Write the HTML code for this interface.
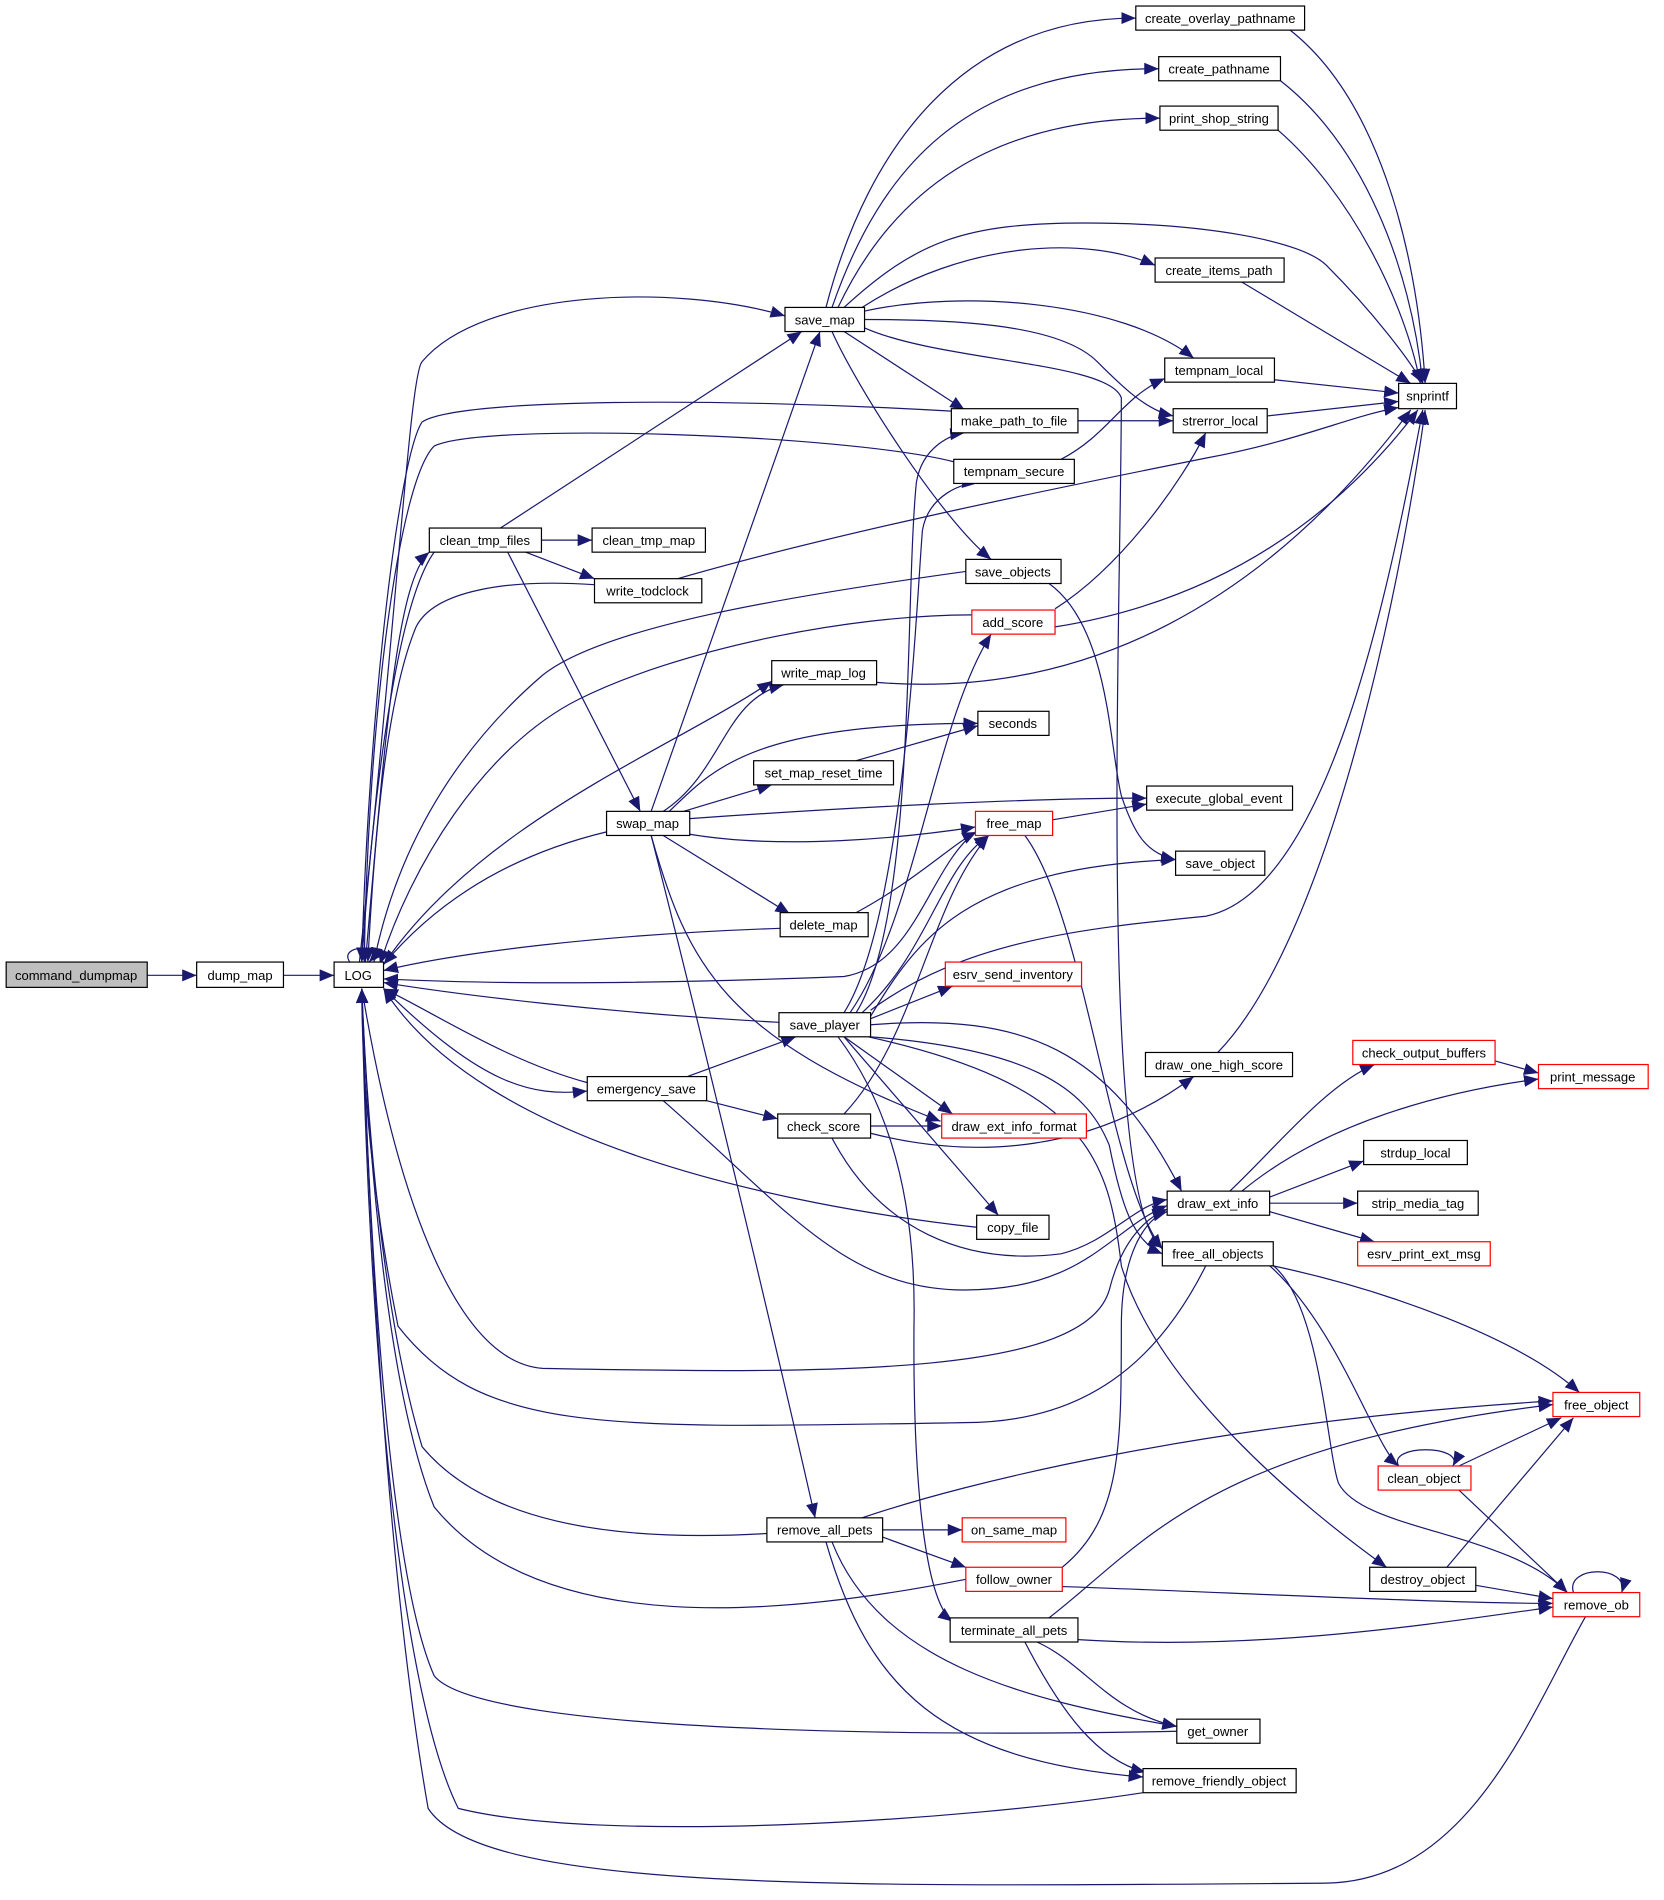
<!DOCTYPE html>
<html><head><meta charset="utf-8"><style>html,body{margin:0;padding:0;background:#fff}svg{display:block}</style></head><body>
<svg width="1664" height="1900" viewBox="0 0 1380 1576" xmlns="http://www.w3.org/2000/svg">
<defs><marker id="a" markerUnits="userSpaceOnUse" markerWidth="13" markerHeight="10" refX="12" refY="5" orient="auto"><path d="M0,0 L12,5 L0,10 z" fill="#191970"/></marker></defs>
<g fill="none" stroke="#191970" stroke-width="1" marker-end="url(#a)">
<path d="M122,809 L163,809"/><path d="M235,809 L277,809"/>
<path d="M290,798 C280,783 320,783 306,798"/>
<path d="M298,798 C330,500 340,310 350,300 C400,240 560,235 651,262"/>
<path d="M789,341 C600,330 380,330 350,350 C330,380 305,600 300,798"/>
<path d="M791,383 C700,360 400,350 360,370 C330,400 305,600 302,798"/>
<path d="M303,798 C320,600 330,480 356,458"/>
<path d="M360,458 C330,500 310,650 300,798"/>
<path d="M449,448 L491,448"/><path d="M436,458 L493,480"/><path d="M415,438 L665,275"/><path d="M421,458 L531,673"/>
<path d="M493,485 C420,480 360,490 345,520 C320,580 310,700 305,798"/>
<path d="M562,480 C700,440 900,400 1000,380 C1080,365 1120,345 1160,338"/>
<path d="M801,474 C650,495 500,520 450,560 C380,620 330,700 310,798"/>
<path d="M806,510 C700,510 560,540 480,580 C400,620 340,720 315,800"/>
<path d="M550,673 C600,640 600,580 650,568"/>
<path d="M503,690 C420,710 360,750 318,800"/>
<path d="M555,673 C590,640 620,600 811,600"/>
<path d="M567,673 L640,651"/>
<path d="M572,679 C700,670 850,662 951,662"/>
<path d="M572,692 C650,705 750,695 809,686"/>
<path d="M550,693 L655,758"/>
<path d="M647,770 C500,775 380,790 318,805"/>
<path d="M318,800 C400,680 560,620 640,565"/>
<path d="M685,255 C720,120 800,15 942,15"/>
<path d="M690,255 C730,140 800,57 961,57"/>
<path d="M695,255 C740,160 820,98 962,98"/>
<path d="M700,255 C760,200 800,185 900,185 C1000,185 1080,200 1100,220 C1140,260 1170,300 1180,318"/>
<path d="M715,255 C800,200 900,195 958,220"/>
<path d="M717,258 C800,240 930,250 990,297"/>
<path d="M717,265 C800,265 880,270 910,300 C930,320 950,340 973,345"/>
<path d="M700,275 L800,340"/>
<path d="M690,275 C710,320 780,430 822,464"/>
<path d="M717,272 C780,300 920,300 930,330 C930,500 910,1000 964,1035"/>
<path d="M540,673 L680,275"/>
<path d="M1070,25 C1140,80 1175,200 1182,318"/>
<path d="M1062,67 C1130,120 1170,220 1180,318"/>
<path d="M1060,108 C1120,160 1165,250 1178,318"/>
<path d="M1030,234 L1170,318"/>
<path d="M1057,315 L1160,326"/><path d="M1051,345 L1160,333"/><path d="M894,349 L973,349"/>
<path d="M880,381 C920,360 930,330 966,314"/>
<path d="M875,505 C930,470 980,400 1000,359"/>
<path d="M875,520 C1000,500 1100,440 1176,340"/>
<path d="M727,566 C900,580 1050,500 1170,340"/>
<path d="M710,631 L811,602"/><path d="M873,680 L951,667"/>
<path d="M850,693 C900,760 920,980 964,1036"/>
<path d="M870,484 C920,520 920,620 930,660 C940,690 950,708 975,713"/>
<path d="M710,757 C760,730 790,700 810,690"/>
<path d="M710,840 C760,760 750,500 760,400 C765,370 790,360 800,359"/>
<path d="M700,840 C750,760 760,500 765,440 C770,410 800,400 810,401"/>
<path d="M705,840 C760,760 775,600 822,526"/>
<path d="M715,840 C770,790 780,720 820,693"/>
<path d="M722,843 C760,780 800,720 975,713"/>
<path d="M722,838 C800,780 900,770 1000,760 C1100,740 1150,500 1180,340"/>
<path d="M722,845 L790,818"/>
<path d="M646,848 C500,840 380,825 318,815"/>
<path d="M722,850 C850,840 920,870 980,988"/>
<path d="M722,860 C850,870 900,900 920,950 C930,1000 940,1030 964,1040"/>
<path d="M700,860 L790,924"/><path d="M700,860 L828,1008"/>
<path d="M695,860 C740,920 760,1000 758,1100 C757,1250 770,1330 790,1345"/>
<path d="M720,860 C900,900 920,960 930,1050 C960,1150 1080,1250 1150,1300"/>
<path d="M570,893 L660,860"/><path d="M586,913 L645,928"/>
<path d="M487,898 C420,880 360,840 318,820"/>
<path d="M318,820 C400,900 440,910 487,905"/>
<path d="M550,913 C650,1000 700,1070 800,1070 C900,1070 920,1020 968,1000"/>
<path d="M722,934 L781,934"/>
<path d="M722,940 C800,960 900,960 990,893"/>
<path d="M690,944 C730,1020 800,1050 880,1040 C920,1030 940,1000 968,995"/>
<path d="M700,924 C760,860 770,750 820,693"/>
<path d="M1010,873 C1100,780 1160,500 1182,340"/>
<path d="M810,1018 C650,1000 400,950 318,820"/>
<path d="M1020,988 C1060,950 1100,900 1140,883"/>
<path d="M1030,988 C1100,930 1200,905 1276,895"/>
<path d="M1053,993 L1131,963"/><path d="M1053,998 L1126,998"/><path d="M1053,1005 L1140,1030"/>
<path d="M1240,880 L1276,890"/>
<path d="M300,820 C330,1000 380,1130 450,1135 C700,1140 900,1140 920,1070 C930,1030 950,1010 968,1003"/>
<path d="M1000,1050 C960,1130 900,1180 800,1180 C500,1185 400,1190 330,1100 C310,1000 300,900 300,820"/>
<path d="M1056,1050 C1150,1070 1260,1110 1310,1155"/>
<path d="M1052,1049 C1110,1100 1140,1200 1160,1216"/>
<path d="M1055,1049 C1095,1080 1100,1200 1110,1230 C1130,1270 1250,1270 1300,1321"/>
<path d="M1160,1216 C1150,1198 1215,1198 1205,1216"/>
<path d="M1210,1216 L1295,1176"/><path d="M1210,1236 L1300,1321"/>
<path d="M1200,1300 L1305,1176"/><path d="M1224,1315 L1288,1326"/>
<path d="M1305,1321 C1298,1298 1352,1298 1345,1321"/>
<path d="M1315,1341 C1270,1420 1220,1560 1100,1562 C700,1565 400,1570 355,1500 C320,1300 305,1000 300,820"/>
<path d="M636,1272 C500,1280 400,1260 350,1200 C320,1100 305,950 300,820"/>
<path d="M732,1269 L798,1269"/><path d="M732,1275 L801,1300"/>
<path d="M715,1259 C800,1230 1000,1180 1288,1162"/>
<path d="M690,1279 C730,1380 850,1410 976,1432"/>
<path d="M685,1279 C720,1400 780,1460 948,1474"/>
<path d="M540,693 C580,850 640,1100 676,1259"/>
<path d="M540,693 C570,800 600,860 780,930"/>
<path d="M801,1310 C650,1340 450,1360 360,1250 C320,1150 305,950 300,820"/>
<path d="M881,1300 C930,1260 930,1200 930,1100 C930,1040 950,1010 968,1005"/>
<path d="M881,1316 C1000,1320 1200,1330 1288,1330"/>
<path d="M870,1342 C950,1280 1000,1200 1288,1165"/>
<path d="M894,1360 C1050,1370 1200,1345 1288,1333"/>
<path d="M860,1362 C900,1380 920,1420 976,1432"/>
<path d="M850,1362 C880,1420 910,1460 950,1470"/>
<path d="M976,1436 C800,1440 400,1440 360,1390 C320,1300 305,1000 300,820"/>
<path d="M948,1487 C800,1510 500,1530 380,1500 C330,1400 305,1100 300,820"/>
<path d="M809,690 C770,720 760,800 700,810 C500,818 380,815 318,812"/>
</g>
<g font-family="Liberation Sans, sans-serif" font-size="10.8" text-anchor="middle">
<g stroke="#000" stroke-width="1" fill="#fff">
<rect x="5" y="798" width="117" height="21" fill="#bfbfbf"/>
<rect x="163" y="798" width="72" height="21"/><rect x="277" y="798" width="41" height="21"/>
<rect x="651" y="255" width="66" height="20"/><rect x="942" y="5" width="140" height="20"/>
<rect x="961" y="47" width="101" height="20"/><rect x="962" y="88" width="98" height="20"/>
<rect x="958" y="214" width="107" height="20"/><rect x="966" y="297" width="91" height="20"/>
<rect x="1160" y="318" width="48" height="21"/><rect x="789" y="339" width="105" height="20"/>
<rect x="973" y="339" width="78" height="20"/><rect x="791" y="381" width="100" height="20"/>
<rect x="356" y="438" width="93" height="20"/><rect x="491" y="438" width="94" height="20"/>
<rect x="493" y="480" width="89" height="20"/><rect x="801" y="464" width="79" height="20"/>
<rect x="806" y="506" width="69" height="20" stroke="#f00"/>
<rect x="640" y="548" width="87" height="20"/><rect x="811" y="590" width="59" height="20"/>
<rect x="625" y="631" width="116" height="20"/><rect x="951" y="652" width="121" height="20"/>
<rect x="503" y="673" width="69" height="20"/>
<rect x="809" y="673" width="64" height="20" stroke="#f00"/>
<rect x="975" y="706" width="74" height="20"/><rect x="647" y="757" width="73" height="20"/>
<rect x="784" y="798" width="113" height="20" stroke="#f00"/>
<rect x="646" y="840" width="76" height="20"/><rect x="950" y="873" width="122" height="20"/>
<rect x="1122" y="863" width="118" height="20" stroke="#f00"/>
<rect x="1276" y="883" width="91" height="20" stroke="#f00"/>
<rect x="487" y="893" width="99" height="20"/><rect x="645" y="924" width="77" height="20"/>
<rect x="781" y="924" width="120" height="20" stroke="#f00"/>
<rect x="1131" y="946" width="86" height="20"/><rect x="968" y="988" width="85" height="20"/>
<rect x="1126" y="988" width="100" height="20"/><rect x="810" y="1008" width="60" height="20"/>
<rect x="964" y="1030" width="92" height="20"/>
<rect x="1126" y="1030" width="110" height="20" stroke="#f00"/>
<rect x="1288" y="1155" width="72" height="20" stroke="#f00"/>
<rect x="1143" y="1216" width="77" height="20" stroke="#f00"/>
<rect x="636" y="1259" width="96" height="20"/>
<rect x="798" y="1259" width="86" height="20" stroke="#f00"/>
<rect x="801" y="1300" width="80" height="20" stroke="#f00"/>
<rect x="1136" y="1300" width="88" height="20"/>
<rect x="1288" y="1321" width="72" height="20" stroke="#f00"/>
<rect x="788" y="1342" width="106" height="20"/><rect x="976" y="1426" width="69" height="20"/>
<rect x="948" y="1467" width="127" height="20"/>
</g>
<text x="63" y="813">command_dumpmap</text><text x="199" y="813">dump_map</text><text x="297" y="813">LOG</text>
<text x="684" y="269">save_map</text><text x="1012" y="19">create_overlay_pathname</text>
<text x="1011" y="61">create_pathname</text><text x="1011" y="102">print_shop_string</text>
<text x="1011" y="228">create_items_path</text><text x="1011" y="311">tempnam_local</text>
<text x="1184" y="332">snprintf</text><text x="841" y="353">make_path_to_file</text>
<text x="1012" y="353">strerror_local</text><text x="841" y="395">tempnam_secure</text>
<text x="402" y="452">clean_tmp_files</text><text x="538" y="452">clean_tmp_map</text>
<text x="537" y="494">write_todclock</text><text x="840" y="478">save_objects</text>
<text x="840" y="520">add_score</text><text x="683" y="562">write_map_log</text>
<text x="840" y="604">seconds</text><text x="683" y="645">set_map_reset_time</text>
<text x="1011" y="666">execute_global_event</text><text x="537" y="687">swap_map</text>
<text x="841" y="687">free_map</text><text x="1012" y="720">save_object</text>
<text x="683" y="771">delete_map</text><text x="840" y="812">esrv_send_inventory</text>
<text x="684" y="854">save_player</text><text x="1011" y="887">draw_one_high_score</text>
<text x="1181" y="877">check_output_buffers</text><text x="1321" y="897">print_message</text>
<text x="536" y="907">emergency_save</text><text x="683" y="938">check_score</text>
<text x="841" y="938">draw_ext_info_format</text><text x="1174" y="960">strdup_local</text>
<text x="1010" y="1002">draw_ext_info</text><text x="1176" y="1002">strip_media_tag</text>
<text x="840" y="1022">copy_file</text><text x="1010" y="1044">free_all_objects</text>
<text x="1181" y="1044">esrv_print_ext_msg</text><text x="1324" y="1169">free_object</text>
<text x="1181" y="1230">clean_object</text><text x="684" y="1273">remove_all_pets</text>
<text x="841" y="1273">on_same_map</text><text x="841" y="1314">follow_owner</text>
<text x="1180" y="1314">destroy_object</text><text x="1324" y="1335">remove_ob</text>
<text x="841" y="1356">terminate_all_pets</text><text x="1010" y="1440">get_owner</text>
<text x="1011" y="1481">remove_friendly_object</text>
</g>
</svg>
</body></html>
